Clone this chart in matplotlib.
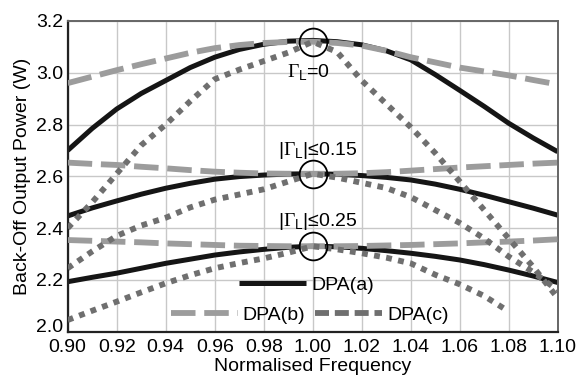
import numpy as np
import matplotlib
matplotlib.use('Agg')
import matplotlib.pyplot as plt
import matplotlib.transforms as mtransforms
from matplotlib.lines import Line2D

plt.rcParams['font.family'] = ['Liberation Sans', 'DejaVu Sans']
plt.rcParams['mathtext.fontset'] = 'custom'
plt.rcParams['mathtext.rm'] = 'Liberation Serif'
plt.rcParams['mathtext.sf'] = 'Liberation Sans'

# normalised frequency points
freq = [0.90, 0.91, 0.92, 0.93, 0.94, 0.95, 0.96, 0.97, 0.98, 0.99, 1.00,
        1.01, 1.02, 1.03, 1.04, 1.05, 1.06, 1.07, 1.08, 1.09, 1.10]

# Gamma_L = 0
a_g0 = [2.70, 2.785, 2.86, 2.92, 2.97, 3.02, 3.06, 3.09, 3.11, 3.122, 3.125,
        3.12, 3.108, 3.085, 3.05, 2.993, 2.932, 2.87, 2.805, 2.748, 2.695]
b_g0 = [2.96, 2.985, 3.01, 3.033, 3.055, 3.077, 3.095, 3.107, 3.115, 3.119, 3.12,
        3.115, 3.105, 3.085, 3.06, 3.04, 3.02, 3.005, 2.99, 2.972, 2.955]
c_g0 = [2.40, 2.50, 2.61, 2.72, 2.80, 2.89, 2.975, 3.012, 3.045, 3.078, 3.12,
        3.08, 2.97, 2.88, 2.79, 2.69, 2.58, 2.47, 2.36, 2.25, 2.13]

# |Gamma_L| <= 0.15
a_g15 = [2.447, 2.478, 2.505, 2.531, 2.554, 2.573, 2.589, 2.599, 2.605, 2.609, 2.61,
         2.608, 2.603, 2.596, 2.586, 2.570, 2.55, 2.527, 2.502, 2.477, 2.45]
b_g15 = [2.653, 2.648, 2.644, 2.637, 2.631, 2.624, 2.618, 2.614, 2.611, 2.61, 2.61,
         2.61, 2.612, 2.616, 2.622, 2.628, 2.634, 2.639, 2.644, 2.649, 2.653]
c_g15 = [2.245, 2.31, 2.37, 2.41, 2.44, 2.48, 2.51, 2.53, 2.55, 2.58, 2.61,
         2.595, 2.575, 2.555, 2.52, 2.47, 2.42, 2.36, 2.29, 2.23, 2.16]

# |Gamma_L| <= 0.25
a_g25 = [2.193, 2.21, 2.226, 2.245, 2.264, 2.28, 2.296, 2.308, 2.318, 2.326, 2.33,
         2.328, 2.322, 2.313, 2.303, 2.291, 2.277, 2.259, 2.238, 2.215, 2.19]
b_g25 = [2.354, 2.351, 2.348, 2.345, 2.341, 2.338, 2.335, 2.332, 2.331, 2.33, 2.33,
         2.33, 2.331, 2.333, 2.335, 2.338, 2.341, 2.345, 2.348, 2.352, 2.357]
freq_c25 = freq[:19]
c_g25 = [2.045, 2.081, 2.116, 2.152, 2.187, 2.218, 2.245, 2.265, 2.283, 2.305, 2.33,
         2.318, 2.303, 2.286, 2.264, 2.22, 2.183, 2.138, 2.078]

peaks = [3.12, 2.61, 2.33]
labels = [r'$\mathrm{\Gamma}_{\mathsf{L}}$=0', r'|$\mathrm{\Gamma}_{\mathsf{L}}$|≤0.15',
          r'|$\mathrm{\Gamma}_{\mathsf{L}}$|≤0.25']
label_x = [0.9895, 0.9860, 0.9860]
label_y = [3.00, 2.70, 2.425]

col_a = '#151515'
col_b = '#9c9c9c'
col_c = '#6f6f6f'

fig = plt.figure(figsize=(5.82, 3.78), dpi=100)
ax = fig.add_axes([0.1163, 0.1225, 0.842, 0.822])

for ys in (b_g0, b_g15, b_g25):
    ax.plot(freq, ys, color=col_b, lw=4.2, ls=(0, (4.2, 1.5)), solid_capstyle='butt',
            dash_capstyle='butt', zorder=3)
for xs, ys in ((freq, c_g0), (freq, c_g15), (freq_c25, c_g25)):
    ax.plot(xs, ys, color=col_c, lw=4.2, ls=(0, (1, 1.1)), dash_capstyle='butt', zorder=4)
for ys in (a_g0, a_g15, a_g25):
    ax.plot(freq, ys, color=col_a, lw=3.6, solid_capstyle='butt', zorder=2)

# circles at the peaks
ax.plot([1.0] * 3, peaks, 'o', ms=20, mfc='none', mec='black', mew=1.3, zorder=6)

# annotations
for tx, ty, lab in zip(label_x, label_y, labels):
    ax.text(tx, ty, lab, fontsize=14, ha='left', va='center', zorder=7)

ax.set_xlim(0.90, 1.10)
ax.set_ylim(2.0, 3.2)
xt = np.arange(0.90, 1.1001, 0.02)
yt = np.arange(2.0, 3.2001, 0.2)
ax.set_xticks(xt)
ax.set_xticklabels(['%.2f' % v for v in xt])
ax.set_yticks(yt)
ax.set_yticklabels(['%.1f' % v for v in yt])
ax.tick_params(axis='both', length=0, labelsize=14)
ax.tick_params(axis='y', pad=3)
ax.tick_params(axis='x', pad=5)
# lift the 2.0 label a little so it clears 0.90
lab0 = ax.get_yticklabels()[0]
lab0.set_transform(lab0.get_transform() +
                   mtransforms.ScaledTranslation(0, 6 / 100, fig.dpi_scale_trans))
ax.grid(True, color='#c8c8c8', lw=1)
ax.set_axisbelow(True)
for s in ('left', 'bottom'):
    ax.spines[s].set_color('#222222')
    ax.spines[s].set_linewidth(1.6)
for s in ('top', 'right'):
    ax.spines[s].set_color('#666666')
    ax.spines[s].set_linewidth(1.4)

ax.set_xlabel('Normalised Frequency', fontsize=14, labelpad=1.5)
ax.set_ylabel('Back-Off Output Power (W)', fontsize=14, labelpad=4)

# legend: DPA(a) on one row, DPA(b) and DPA(c) below
h_a = Line2D([], [], color=col_a, lw=3.6, solid_capstyle='butt')
h_b = Line2D([], [], color=col_b, lw=4.2, ls=(0, (4.2, 1.5)), dash_capstyle='butt')
h_c = Line2D([], [], color=col_c, lw=4.2, ls=(0, (2.4, 1.0)), dash_capstyle='butt')
leg1 = ax.legend([h_a], ['DPA(a)'], loc='center', bbox_to_anchor=(0.487, 0.150),
                 frameon=False, fontsize=14, handlelength=3.45, handletextpad=0.26,
                 borderpad=0, borderaxespad=0)
leg1.set_zorder(8)
ax.add_artist(leg1)
leg2 = ax.legend([h_b, h_c], ['DPA(b)', 'DPA(c)'], loc='center', ncol=2,
                 bbox_to_anchor=(0.494, 0.054), frameon=False, fontsize=14,
                 handlelength=3.45, handletextpad=0.26, columnspacing=0.5,
                 borderpad=0, borderaxespad=0)
leg2.set_zorder(8)

fig.savefig('out.png', dpi=100)
